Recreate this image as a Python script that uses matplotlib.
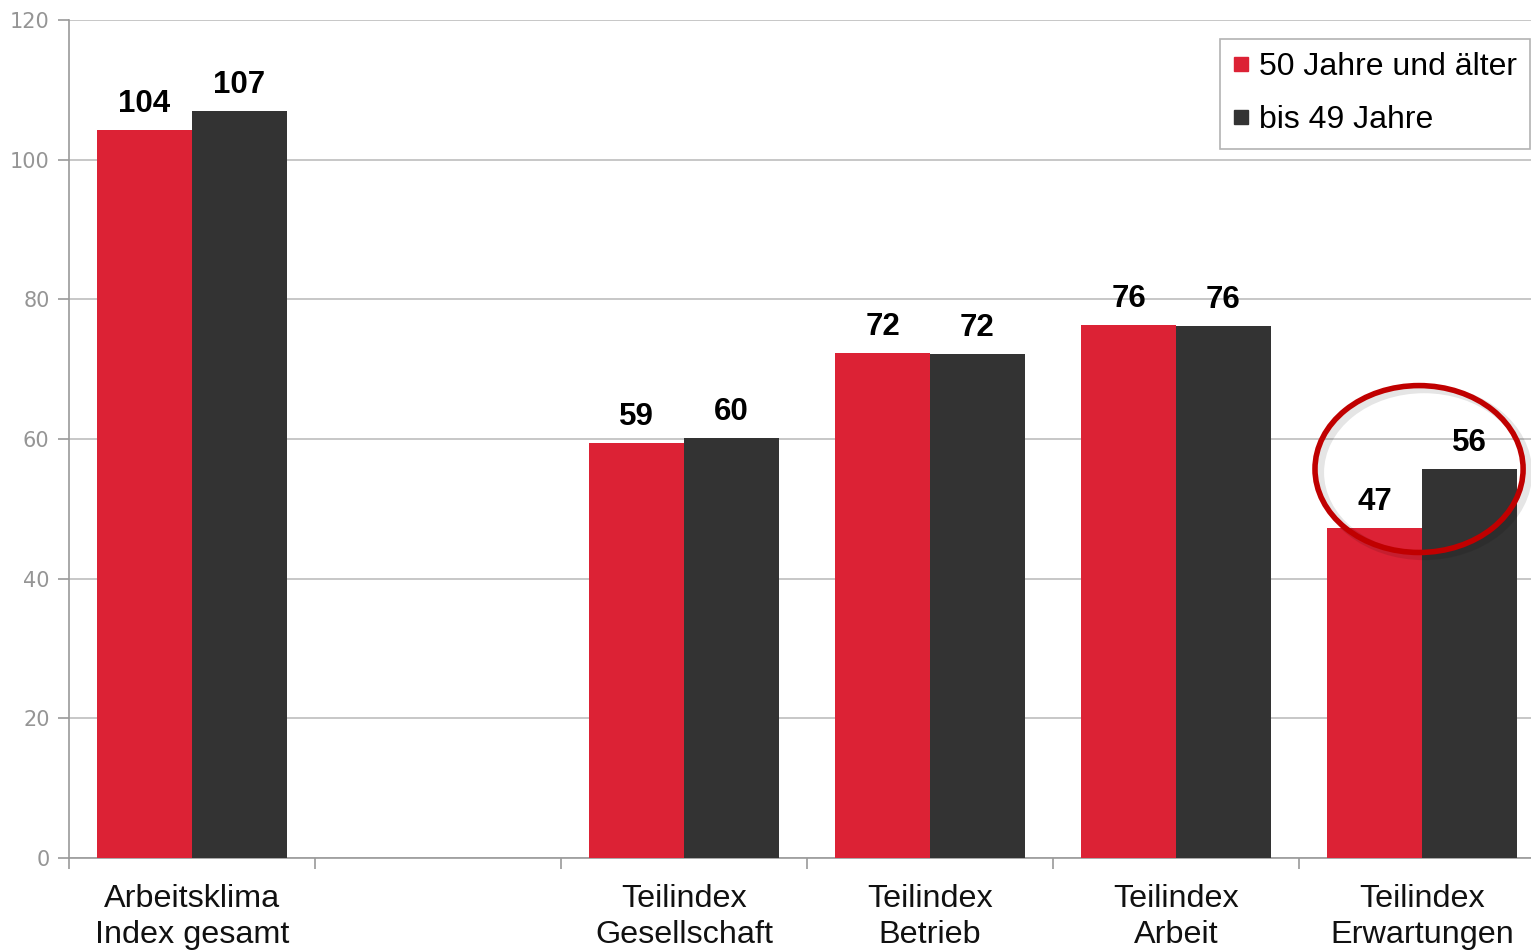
import matplotlib
matplotlib.use("Agg")
import matplotlib.pyplot as plt
from matplotlib.patches import Ellipse
from matplotlib.lines import Line2D
import numpy as np

plt.rcParams['font.family'] = ['Liberation Sans', 'DejaVu Sans']

categories = ["Arbeitsklima\nIndex gesamt", "", "Teilindex\nGesellschaft",
              "Teilindex\nBetrieb", "Teilindex\nArbeit", "Teilindex\nErwartungen"]
series_names = ["50 Jahre und älter", "bis 49 Jahre"]
values_older = [104.3, np.nan, 59.4, 72.3, 76.3, 47.3]
values_younger = [107.0, np.nan, 60.1, 72.2, 76.2, 55.7]
yticks = [0, 20, 40, 60, 80, 100, 120]

RED = "#DC2235"
DARK = "#333333"
GRID = "#BEBEBE"

W, H = 1531, 952
fig = plt.figure(figsize=(W / 100, H / 100), dpi=100)
ax = fig.add_axes([69 / W, (H - 858) / H, 1476 / W, 838 / H])

x = np.arange(len(categories))
bw = 0.386
bars_o = ax.bar(x - bw / 2, values_older, bw, color=RED, zorder=3)
bars_y = ax.bar(x + bw / 2, values_younger, bw, color=DARK, zorder=3)

for bars, vals in ((bars_o, values_older), (bars_y, values_younger)):
    for b, v in zip(bars, vals):
        if np.isnan(v):
            continue
        ax.annotate(f"{v:.0f}", (b.get_x() + b.get_width() / 2, v),
                    xytext=(0, 8), textcoords="offset points",
                    ha="center", va="bottom", fontsize=22.5, fontweight="bold",
                    color="black", zorder=5)

ax.set_xlim(-0.5, len(categories) - 0.5)
ax.set_ylim(0, 120)
ax.set_yticks(yticks)
ax.set_yticklabels([str(t) for t in yticks], fontsize=15, color="#959595",
                   family="DejaVu Sans")
ax.yaxis.grid(True, color=GRID, linewidth=1.2, zorder=0)
ax.set_axisbelow(True)

# category boundaries carry the tick marks, labels sit at centres
ax.set_xticks(np.arange(len(categories) + 1) - 0.5)
ax.set_xticklabels([])
ax.set_xticks(x, minor=True)
ax.set_xticklabels(categories, minor=True, fontsize=23.3, color="#111111",
                   linespacing=1.24)
ax.tick_params(axis="x", which="minor", length=0, pad=19)
ax.tick_params(axis="x", which="major", length=8, color="#9A9A9A", width=1.2)
ax.tick_params(axis="y", length=8, color="#9A9A9A", width=1.2, pad=6)

for s in ("top", "right"):
    ax.spines[s].set_visible(False)
for s in ("left", "bottom"):
    ax.spines[s].set_color("#9A9A9A")
    ax.spines[s].set_linewidth(1.2)

# highlight ring around the last group
cx = x[-1]
cy = values_younger[-1]
shadow = Ellipse((cx + 0.008, cy - 0.5), 0.846, 23.9, fill=False,
                 edgecolor="#000000", alpha=0.10, linewidth=6, zorder=6)
ax.add_patch(shadow)
ring = Ellipse((cx - 0.012, cy), 0.846, 23.9, fill=False,
               edgecolor="#C00000", linewidth=4, zorder=7)
ax.add_patch(ring)

handles = [Line2D([], [], marker="s", linestyle="none", markersize=10,
                  markerfacecolor=c, markeredgecolor=c) for c in (RED, DARK)]
leg = fig.legend(handles, series_names, loc="upper right",
                 bbox_to_anchor=(1530 / W, 1 - 39 / H),
                 fontsize=23, frameon=True, fancybox=False,
                 handlelength=0.5, handletextpad=0.3, labelspacing=0.72,
                 borderpad=0.42, borderaxespad=0)
leg.get_frame().set_edgecolor("#A0A0A0")
leg.get_frame().set_linewidth(1.2)

fig.savefig("out.png", dpi=100)
